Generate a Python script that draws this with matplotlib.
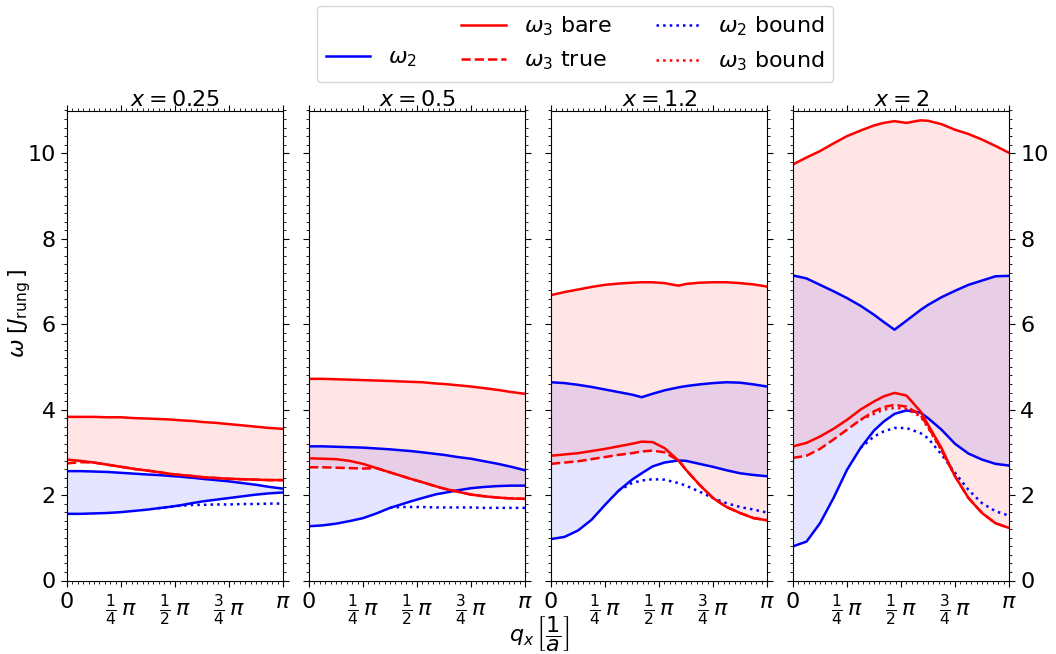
import numpy as np
import matplotlib.pyplot as plt
from matplotlib.ticker import MultipleLocator, FixedLocator
from matplotlib.lines import Line2D

nan = np.nan

# doping values of the four panels
x_values = ['0.25', '0.5', '1.2', '2']

# momentum grid in units of pi
q_frac = [0, 0.0625, 0.125, 0.1875, 0.25, 0.3125, 0.375, 0.42, 0.47, 0.525,
          0.59, 0.625, 0.6875, 0.75, 0.8125, 0.875, 0.9375, 1.0]

# upper edge of the omega_3 continuum
w3_upper = [
    [3.83, 3.83, 3.83, 3.82, 3.82, 3.80, 3.79, 3.78, 3.77, 3.75, 3.73, 3.71, 3.69, 3.66, 3.63, 3.60, 3.57, 3.55],
    [4.72, 4.72, 4.71, 4.70, 4.69, 4.68, 4.67, 4.66, 4.65, 4.64, 4.61, 4.60, 4.57, 4.54, 4.50, 4.46, 4.41, 4.37],
    [6.68, 6.75, 6.81, 6.87, 6.92, 6.95, 6.97, 6.98, 6.98, 6.96, 6.90, 6.94, 6.97, 6.98, 6.98, 6.96, 6.93, 6.88],
    [9.74, 9.90, 10.05, 10.23, 10.40, 10.53, 10.65, 10.71, 10.75, 10.71, 10.77, 10.76, 10.68, 10.55, 10.45, 10.32, 10.17, 10.01],
]
# lower edge of the bare omega_3 continuum
w3_bare = [
    [2.83, 2.80, 2.76, 2.71, 2.66, 2.61, 2.57, 2.54, 2.50, 2.47, 2.44, 2.42, 2.40, 2.38, 2.37, 2.36, 2.35, 2.35],
    [2.86, 2.85, 2.84, 2.80, 2.73, 2.63, 2.53, 2.46, 2.38, 2.30, 2.20, 2.15, 2.08, 2.01, 1.97, 1.94, 1.92, 1.91],
    [2.92, 2.95, 2.98, 3.03, 3.08, 3.14, 3.20, 3.25, 3.24, 3.10, 2.81, 2.59, 2.24, 1.93, 1.72, 1.58, 1.46, 1.41],
    [3.14, 3.22, 3.37, 3.55, 3.76, 4.00, 4.19, 4.31, 4.39, 4.33, 3.96, 3.65, 3.10, 2.44, 1.93, 1.58, 1.34, 1.23],
]
# lower edge of the true omega_3 continuum
w3_true = [
    [2.74, 2.77, 2.76, 2.71, 2.66, 2.61, 2.57, 2.54, 2.50, 2.47, 2.44, 2.42, 2.40, 2.38, 2.37, 2.36, 2.35, 2.35],
    [2.65, 2.65, 2.64, 2.63, 2.62, 2.63, 2.53, 2.46, 2.38, 2.30, 2.20, 2.15, 2.08, 2.01, 1.97, 1.94, 1.92, 1.91],
    [2.73, 2.76, 2.79, 2.84, 2.89, 2.94, 2.98, 3.02, 3.04, 3.00, 2.81, 2.59, 2.24, 1.93, 1.72, 1.58, 1.46, 1.41],
    [2.87, 2.92, 3.08, 3.30, 3.53, 3.76, 3.96, 4.06, 4.11, 4.07, 3.88, 3.60, 3.06, 2.44, 1.93, 1.58, 1.34, 1.23],
]
# omega_3 bound state
w3_bound = [
    [nan] * 18,
    [nan] * 18,
    [nan] * 18,
    [nan] * 5 + [3.76, 3.90, 4.00, 4.04, 4.02, 3.84, 3.58, 3.04, 2.44] + [nan] * 4,
]
# omega_2 continuum edges
w2_upper = [
    [2.56, 2.56, 2.55, 2.54, 2.52, 2.50, 2.48, 2.47, 2.45, 2.43, 2.40, 2.38, 2.35, 2.32, 2.28, 2.24, 2.19, 2.15],
    [3.14, 3.14, 3.13, 3.12, 3.11, 3.09, 3.07, 3.05, 3.03, 3.00, 2.96, 2.94, 2.89, 2.85, 2.79, 2.73, 2.66, 2.58],
    [4.64, 4.62, 4.58, 4.53, 4.47, 4.41, 4.35, 4.29, 4.37, 4.45, 4.52, 4.55, 4.59, 4.62, 4.64, 4.63, 4.59, 4.54],
    [7.14, 7.07, 6.92, 6.77, 6.61, 6.43, 6.22, 6.05, 5.87, 6.08, 6.33, 6.45, 6.63, 6.78, 6.92, 7.02, 7.12, 7.13],
]
w2_lower = [
    [1.56, 1.56, 1.57, 1.58, 1.60, 1.63, 1.66, 1.69, 1.72, 1.76, 1.82, 1.85, 1.89, 1.93, 1.97, 2.01, 2.04, 2.06],
    [1.27, 1.29, 1.33, 1.39, 1.46, 1.57, 1.70, 1.77, 1.85, 1.93, 2.02, 2.05, 2.11, 2.16, 2.19, 2.21, 2.22, 2.22],
    [0.97, 1.02, 1.17, 1.42, 1.77, 2.10, 2.36, 2.51, 2.67, 2.76, 2.81, 2.80, 2.73, 2.66, 2.58, 2.51, 2.47, 2.44],
    [0.80, 0.91, 1.34, 1.93, 2.59, 3.10, 3.51, 3.72, 3.90, 3.98, 3.93, 3.80, 3.53, 3.20, 2.97, 2.83, 2.73, 2.69],
]
# omega_2 bound state
w2_bound = [
    [nan] * 7 + [1.69, 1.72, 1.75, 1.77, 1.77, 1.78, 1.78, 1.79, 1.79, 1.80, 1.80],
    [nan] * 6 + [1.70, 1.72, 1.72, 1.72, 1.71, 1.71, 1.71, 1.71, 1.70, 1.70, 1.70, 1.70],
    [nan] * 5 + [2.10, 2.28, 2.34, 2.37, 2.36, 2.28, 2.22, 2.08, 1.93, 1.81, 1.72, 1.66, 1.59],
    [nan] * 5 + [3.10, 3.37, 3.49, 3.57, 3.57, 3.45, 3.33, 2.95, 2.52, 2.12, 1.81, 1.62, 1.52],
]

q_ticks = [0, np.pi / 4, np.pi / 2, 3 * np.pi / 4, np.pi]
q_ticklabels = ['0', r'$\frac{1}{4}\,\pi$', r'$\frac{1}{2}\,\pi$', r'$\frac{3}{4}\,\pi$', r'$\pi$']

W, H = 1056, 654
fig = plt.figure(figsize=(W / 100, H / 100), dpi=100)

q = np.array(q_frac) * np.pi
lw = 1.8
lefts = [67, 309, 551, 793]
for i, left in enumerate(lefts):
    ax = fig.add_axes([left / W, 73.5 / H, 216 / W, 470 / H])

    ax.fill_between(q, w2_lower[i], w2_upper[i], color='blue', alpha=0.1, lw=0)
    ax.fill_between(q, w3_true[i], w3_upper[i], color='red', alpha=0.1, lw=0)

    ax.plot(q, w2_upper[i], color='blue', lw=lw)
    ax.plot(q, w2_lower[i], color='blue', lw=lw)
    ax.plot(q, w2_bound[i], color='blue', lw=lw, ls=':')
    ax.plot(q, w3_upper[i], color='red', lw=lw)
    ax.plot(q, w3_bare[i], color='red', lw=lw)
    ax.plot(q, w3_true[i], color='red', lw=lw, ls='--')
    ax.plot(q, w3_bound[i], color='red', lw=lw, ls=':')

    ax.set_xlim(0, np.pi)
    ax.set_ylim(0, 11)
    ax.xaxis.set_major_locator(FixedLocator(q_ticks))
    ax.set_xticklabels(q_ticklabels)
    ax.xaxis.set_minor_locator(MultipleLocator(np.pi / 40))
    ax.yaxis.set_major_locator(MultipleLocator(2))
    ax.yaxis.set_minor_locator(MultipleLocator(0.2))

    ax.tick_params(which='both', direction='out', top=True, right=True, labelsize=16,
                   labelleft=(i == 0), labelright=(i == 3))
    ax.tick_params(which='major', length=4.5)
    ax.tick_params(which='minor', length=2.5)
    ax.set_title(rf'$x = {x_values[i]}$', fontsize=16, pad=1)

fig.text(0.019, 0.52, r'$\omega\;[J_\mathrm{rung}\,]$', rotation=90,
         ha='center', va='center', fontsize=16)
fig.text(0.5104, 0.032, r'$q_x\,\left[\dfrac{1}{a}\right]$',
         ha='center', va='center', fontsize=16)

handles = [
    Line2D([], [], ls='none'),
    Line2D([], [], color='blue', lw=lw),
    Line2D([], [], color='red', lw=lw),
    Line2D([], [], color='red', lw=lw, ls='--'),
    Line2D([], [], color='blue', lw=lw, ls=':'),
    Line2D([], [], color='red', lw=lw, ls=':'),
]
labels = ['', r'$\omega_2$', r'$\omega_3$ bare', r'$\omega_3$ true',
          r'$\omega_2$ bound', r'$\omega_3$ bound']
fig.legend(handles, labels, ncol=3, loc='upper center',
           bbox_to_anchor=(0.5445, 1.008), fontsize=16)

fig.savefig('out.png', dpi=100)
